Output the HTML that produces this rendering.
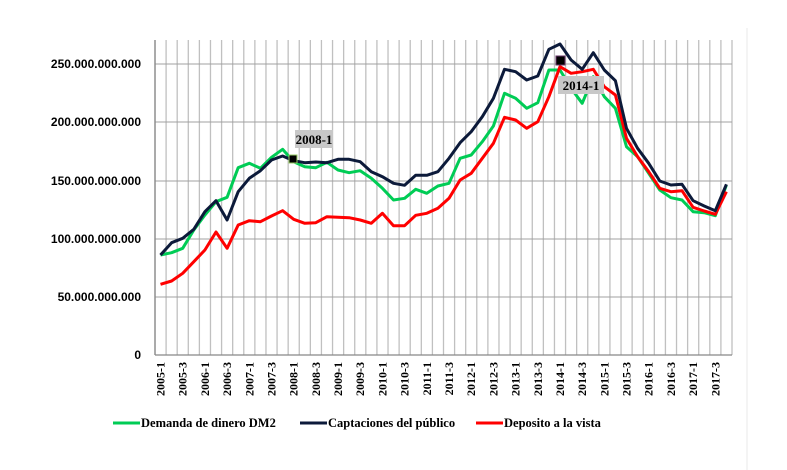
<!DOCTYPE html>
<html><head><meta charset="utf-8"><style>
html,body{margin:0;padding:0;background:#fff;width:787px;height:470px;overflow:hidden}
svg{display:block}
</style></head><body>
<svg id="s" width="787" height="470" xmlns="http://www.w3.org/2000/svg"></svg>
<script>
var s=document.getElementById('s');var h='';
var L=155,R=732,T=40,B=355,dx=(R-L)/52;
for(var k=0;k<=52;k++){var x=L+dx*k;h+='<line x1="'+x+'" y1="'+T+'" x2="'+x+'" y2="'+B+'" stroke="#c0c0c0" stroke-width="1.3"/>';}
var ys=[64,122,181,239,297];
var lab=['250.000.000.000','200.000.000.000','150.000.000.000','100.000.000.000','50.000.000.000'];
ys.forEach(function(y,i){h+='<line x1="'+L+'" y1="'+y+'" x2="'+R+'" y2="'+y+'" stroke="#a0a0a0" stroke-width="1"/>';
h+='<text x="141" y="'+(y+4)+'" text-anchor="end" font-family="Liberation Sans,sans-serif" font-weight="bold" font-size="12">'+lab[i]+'</text>';});
h+='<text x="141" y="359" text-anchor="end" font-family="Liberation Sans,sans-serif" font-weight="bold" font-size="12">0</text>';
h+='<line x1="'+L+'" y1="'+B+'" x2="'+R+'" y2="'+B+'" stroke="#888" stroke-width="1.3"/>';
h+='<line x1="'+L+'" y1="'+T+'" x2="'+L+'" y2="'+B+'" stroke="#888" stroke-width="1.3"/>';
for(var i=0;i<52;i+=2){var yr=2005+Math.floor(i/4),q=(i%4)+1;var x=160.5+dx*i+4;
h+='<text transform="translate('+x+',362) rotate(-90)" text-anchor="end" font-family="Liberation Serif,serif" font-weight="bold" font-size="12">'+yr+'-'+q+'</text>';}
var dark=[255,242.7,238.3,229.3,211.7,200.7,220,191.7,178.3,170.7,160,156,160.7,162.7,162,162.7,159.3,159.3,161.7,171.7,176.7,183.3,185.3,175.3,175.3,171.7,158.3,142.7,131.7,116.7,98.3,69.3,71.7,80,76,49.3,44,60,69.3,52.7,70,80.7,128.3,148.3,163.3,181,185,184.3,200.7,206,210.7,184.3];
var green=[255,252.7,248.3,230,215,201.7,197.3,167.7,163.3,168.3,157.3,149.3,161.7,166.7,167.7,162.3,170,172.7,170.7,178.3,188.3,200,198.3,189.3,193.3,186,183.3,158.3,155,141.7,126,93.3,98.3,108.3,102.7,70,70,88.3,103.3,76.7,96.7,108.3,146.7,156.7,173.3,190,197.7,200,211.7,212.7,215.7,185];
var red=[284.3,281,273.3,261.7,250,232,248.3,225,220.7,221.7,216,210.7,219.3,223.3,222.7,216.7,217.3,217.7,220,223.3,213.3,225.7,225.7,215.3,213.3,208.3,198.3,180,173.3,158.3,143.3,117.3,120,128.3,121.7,96.7,66.7,73.3,71.7,69.3,86.7,95,138.3,156.7,171.7,188.3,191.7,190.7,207.3,211,214.3,191.7];
function pl(a,c){return '<polyline fill="none" stroke="'+c+'" stroke-width="3" stroke-linejoin="round" points="'+a.map(function(y,i){return (160.5+dx*i).toFixed(1)+','+y}).join(' ')+'"/>';}
h+=pl(green,'#00cc55')+pl(red,'#ff0000')+pl(dark,'#0c1a3a');
h+='<rect x="289" y="155" width="8" height="8" fill="#000" stroke="#9c6" stroke-width="1"/>';
h+='<rect x="295" y="130" width="38" height="18" fill="#c8c8c8"/><text x="314" y="144" text-anchor="middle" font-family="Liberation Serif,serif" font-weight="bold" font-size="13">2008-1</text>';
h+='<rect x="556" y="56" width="9" height="9" fill="#000" stroke="#636" stroke-width="1"/>';
h+='<rect x="558" y="76" width="46" height="18" fill="#c8c8c8"/><text x="581" y="90" text-anchor="middle" font-family="Liberation Serif,serif" font-weight="bold" font-size="13">2014-1</text>';
var lg=[[113,'#00cc55','Demanda de dinero DM2'],[300,'#0c1a3a','Captaciones del público'],[476,'#ff0000','Deposito a la vista']];
lg.forEach(function(l){h+='<line x1="'+l[0]+'" y1="423" x2="'+(l[0]+27)+'" y2="423" stroke="'+l[1]+'" stroke-width="3"/>';
h+='<text x="'+(l[0]+28)+'" y="427" font-family="Liberation Serif,serif" font-weight="bold" font-size="12.5">'+l[2]+'</text>';});
h+='<line x1="747" y1="28" x2="747" y2="470" stroke="#e8e8e8" stroke-width="1"/>';
s.innerHTML=h;
</script>
</body></html>
